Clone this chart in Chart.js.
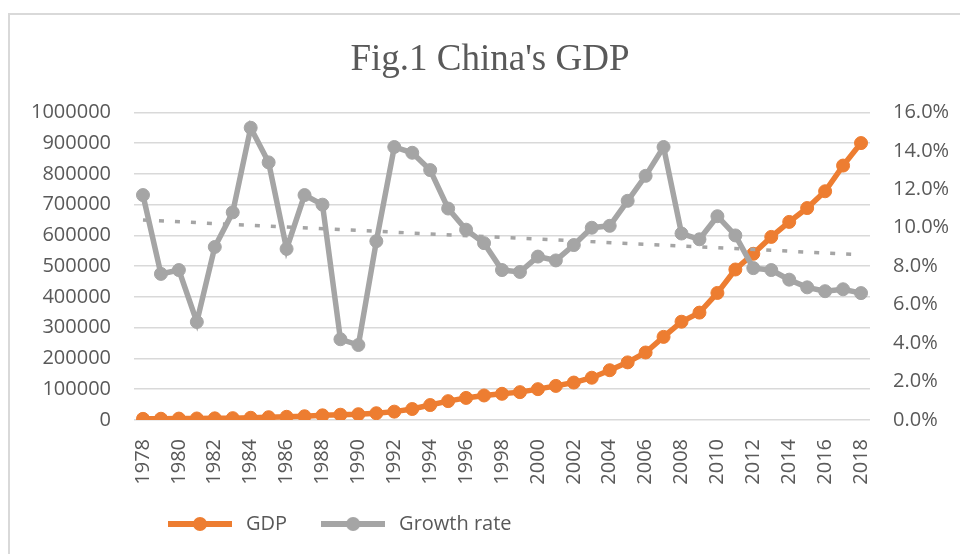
<!DOCTYPE html>
<html>
<head>
<meta charset="utf-8">
<script src="https://cdn.jsdelivr.net/npm/chart.js@4.4.1/dist/chart.umd.min.js"></script>
<style>
  html, body { margin: 0; padding: 0; background: #fff; }
  #wrap { position: relative; width: 960px; height: 554px; overflow: hidden; }
  #frame { position: absolute; left: 8px; top: 13px; width: 1000px; height: 600px;
           border-left: 2px solid #d9d9d9; border-top: 2px solid #d9d9d9; }
  #chart { position: absolute; left: 0; top: 0; }
</style>
</head>
<body>
<div id="wrap">
  <div id="frame"></div>
  <canvas id="chart" width="960" height="554"></canvas>
</div>
<script>
// China GDP (100 million yuan) and real growth rate (%), 1978-2018
const years = ['1978','1979','1980','1981','1982','1983','1984','1985','1986','1987',
               '1988','1989','1990','1991','1992','1993','1994','1995','1996','1997',
               '1998','1999','2000','2001','2002','2003','2004','2005','2006','2007',
               '2008','2009','2010','2011','2012','2013','2014','2015','2016','2017','2018'];

const gdp = [3679, 4101, 4588, 4936, 5373, 6021, 7279, 9099, 10376, 12175,
             15180, 17180, 18873, 22006, 27195, 35673, 48638, 61340, 71814, 79715,
             85196, 90564, 100280, 110863, 121717, 137422, 161840, 187319, 219439, 270232,
             319516, 349081, 413030, 489301, 540367, 595244, 643974, 689052, 743586, 827122, 900309];

const growthRate = [11.7, 7.6, 7.8, 5.1, 9.0, 10.8, 15.2, 13.4, 8.9, 11.7,
                    11.2, 4.2, 3.9, 9.3, 14.2, 13.9, 13.0, 11.0, 9.9, 9.2,
                    7.8, 7.7, 8.5, 8.3, 9.1, 10.0, 10.1, 11.4, 12.7, 14.2,
                    9.7, 9.4, 10.6, 9.6, 7.9, 7.8, 7.3, 6.9, 6.7, 6.8, 6.6];

const trendEnds = [10.4, 8.6];

const ORANGE = '#ED7D31';
const GREY = '#A5A5A5';
const TEXT = '#595959';

Chart.defaults.font.family = "'Open Sans', sans-serif";
Chart.defaults.font.size = 20;
Chart.defaults.color = TEXT;

// legend marker: thick line with a dot in the middle, like Excel
function legendIcon(color) {
    const c = document.createElement('canvas');
    c.width = 64; c.height = 16;
    const g = c.getContext('2d');
    g.strokeStyle = color;
    g.lineWidth = 6;
    g.beginPath(); g.moveTo(0, 8); g.lineTo(64, 8); g.stroke();
    g.fillStyle = color;
    g.beginPath(); g.arc(32, 8, 7, 0, Math.PI * 2); g.fill();
    return c;
}
const icons = { 'GDP': legendIcon(ORANGE), 'Growth rate': legendIcon(GREY) };

const ctx = document.getElementById('chart').getContext('2d');
new Chart(ctx, {
    type: 'line',
    data: {
        labels: years,
        datasets: [
            { label: 'GDP', data: gdp, yAxisID: 'y', order: 2,
              borderColor: ORANGE, backgroundColor: ORANGE, borderWidth: 5.5,
              pointRadius: 6.5, pointBorderWidth: 1, pointHoverRadius: 6.5 },
            { label: 'Trend', data: [{ x: years[0], y: trendEnds[0] },
                                     { x: years[years.length - 1], y: trendEnds[1] }],
              yAxisID: 'y1', order: 1,
              borderColor: GREY, borderWidth: 3.5, borderDash: [5, 11],
              pointRadius: 0, pointHoverRadius: 0 },
            { label: 'Growth rate', data: growthRate, yAxisID: 'y1', order: 0,
              borderColor: GREY, backgroundColor: GREY, borderWidth: 5.5,
              pointRadius: 6.5, pointBorderWidth: 1, pointHoverRadius: 6.5 },
        ]
    },
    options: {
        responsive: false,
        animation: false,
        devicePixelRatio: 1,
        layout: { padding: { left: 30, right: 10, top: 24, bottom: 10 } },
        plugins: {
            title: {
                display: true,
                text: "Fig.1 China's GDP",
                color: TEXT,
                font: { family: "'Liberation Serif', serif", size: 37, weight: 'normal' },
                padding: { top: 14, bottom: 30 }
            },
            legend: {
                position: 'bottom',
                align: 'start',
                fullSize: false,
                labels: {
                    usePointStyle: true,
                    pointStyleWidth: 72,
                    padding: 30,
                    color: TEXT,
                    filter: (item) => item.text !== 'Trend',
                    sort: (a, b) => a.datasetIndex - b.datasetIndex,
                    generateLabels: (chart) => {
                        const items = Chart.defaults.plugins.legend.labels.generateLabels(chart);
                        items.forEach(it => { if (icons[it.text]) it.pointStyle = icons[it.text]; });
                        return items;
                    }
                }
            },
            tooltip: { enabled: false }
        },
        scales: {
            x: {
                offset: true,
                grid: { display: false },
                border: { display: false },
                afterFit: (s) => { s.height = 64; },
                ticks: {
                    autoSkip: false,
                    minRotation: 90,
                    maxRotation: 90,
                    padding: 11,
                    callback: (v, i) => (i % 2 === 0 ? years[i] : '')
                }
            },
            y: {
                position: 'left',
                min: 0, max: 1000000,
                grid: { color: '#d9d9d9', lineWidth: 1.5, drawTicks: false },
                border: { display: false },
                afterFit: (s) => { s.width = 104; },
                ticks: { stepSize: 100000, padding: 23, callback: (v) => String(v) }
            },
            y1: {
                position: 'right',
                min: 0, max: 16,
                grid: { display: false, drawTicks: false },
                border: { display: false },
                afterFit: (s) => { s.width = 80; },
                ticks: { stepSize: 2, padding: 23, callback: (v) => v.toFixed(1) + '%' }
            }
        }
    }
});
</script>
</body>
</html>
